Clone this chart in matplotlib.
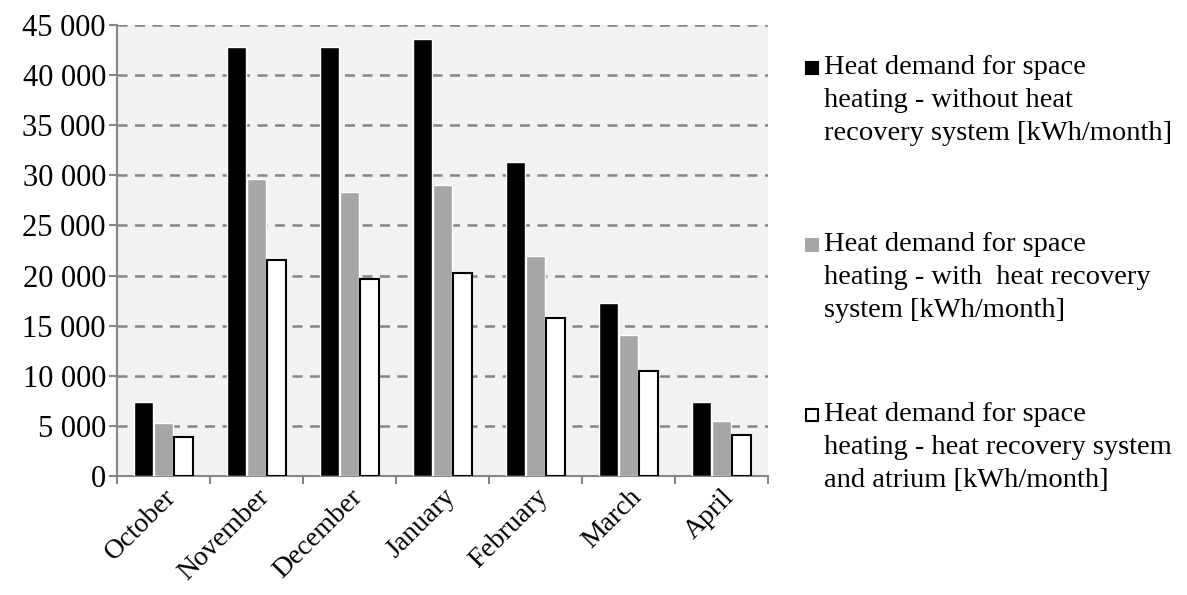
import numpy as np
import matplotlib
matplotlib.use("Agg")
import matplotlib.pyplot as plt
from matplotlib.patches import Rectangle
from matplotlib.ticker import FuncFormatter, FixedLocator

months = ["October", "November", "December", "January", "February", "March", "April"]
without_hr = [7400, 42850, 42850, 43650, 31300, 17300, 7400]
with_hr = [5250, 29600, 28350, 29000, 21950, 14100, 5500]
hr_atrium = [3850, 21600, 19650, 20300, 15730, 10500, 4070]
labels = [
    "Heat demand for space\nheating - without heat\nrecovery system [kWh/month]",
    "Heat demand for space\nheating - with  heat recovery\nsystem [kWh/month]",
    "Heat demand for space\nheating - heat recovery system\nand atrium [kWh/month]",
]
yticks = list(range(0, 45001, 5000))

plt.rcParams['font.family'] = ['Liberation Serif', 'DejaVu Serif']

fig = plt.figure(figsize=(11.87, 5.95), dpi=100)
ax = fig.add_axes([117/1187, 1-476/595, (768-117)/1187, (476-25)/595])
ax.set_facecolor('#f2f2f2')

x = np.arange(len(months))
w = 0.205
off = 0.215
ax.bar(x - off, without_hr, w, color='black', edgecolor='white', linewidth=1.0, zorder=3)
ax.bar(x, with_hr, w, color='#a6a6a6', edgecolor='white', linewidth=1.0, zorder=3)
ax.bar(x + off, hr_atrium, w, color='white', edgecolor='black', linewidth=1.5, zorder=3)

ax.set_xlim(-0.5, len(months) - 0.5)
ax.set_ylim(0, 45000)
ax.yaxis.set_major_locator(FixedLocator(yticks))
ax.yaxis.set_major_formatter(FuncFormatter(lambda v, p: f"{int(v):,}".replace(",", " ")))
ax.grid(axis='y', color='#858585', linestyle=(0, (4, 3)), linewidth=1.8, zorder=1)
ax.set_axisbelow(True)

for s in ['top', 'right']:
    ax.spines[s].set_visible(False)
for s in ['left', 'bottom']:
    ax.spines[s].set_color('#868686')
    ax.spines[s].set_linewidth(1.5)

ax.tick_params(axis='y', direction='out', length=6, width=1.5, color='#868686', labelsize=22, pad=2)
ax.set_xticks(np.arange(-0.5, len(months) + 0.5, 1.0))
ax.set_xticklabels([])
ax.tick_params(axis='x', direction='out', length=6, width=1.5, color='#868686')
ax.set_xticks(x, minor=True)
ax.set_xticklabels(months, minor=True, rotation=45, ha='right', rotation_mode='anchor', fontsize=20)
ax.tick_params(axis='x', which='minor', length=0, pad=6)

# legend (manual)
entries_y = [68, 245, 415]
face = ['black', '#a6a6a6', 'white']
edge = ['black', '#a6a6a6', 'black']
for yy, lab, fc, ec in zip(entries_y, labels, face, edge):
    fig.patches.append(Rectangle((806/1187, 1-(yy+6)/595), 12/1187, 12/595,
                                 transform=fig.transFigure, facecolor=fc, edgecolor=ec, linewidth=1.5))
    fig.text(824/1187, 1-(yy-13)/595, lab, fontsize=20.5, va='top', ha='left', linespacing=1.42)

fig.savefig("out.png", dpi=100)
